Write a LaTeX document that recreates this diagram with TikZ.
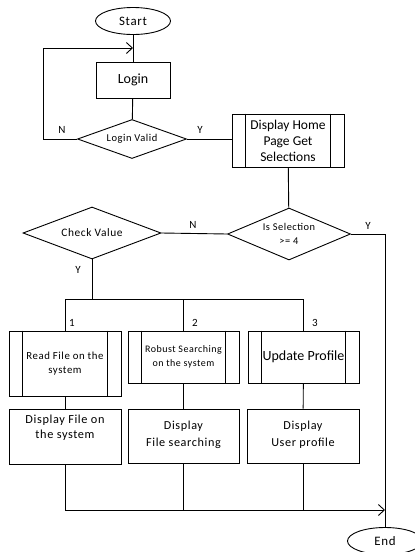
\documentclass[tikz,border=0pt]{standalone}
\usepackage{fontspec}
\setmainfont{Carlito}
\newfontfamily\spc[LetterSpace=5]{Carlito}
\usetikzlibrary{shapes.geometric,arrows.meta}
\begin{document}
\begin{tikzpicture}[x=1pt,y=-1pt,
 line width=0.9pt,
 term/.style={draw, ellipse, minimum width=75pt, minimum height=27pt, inner sep=0pt, font=\spc\fontsize{12.9}{14}\selectfont},
 box/.style={draw, rectangle, inner sep=0pt, align=center},
 dec/.style={draw, diamond, inner sep=0pt, align=center, aspect=2.5},
 txt/.style={inner sep=0pt, align=center},
 lab/.style={inner sep=0pt, font=\fontsize{11}{13}\selectfont},
 arr/.style={-{Straight Barb[length=6pt,width=11pt]}},
 predef/.style={box, append after command={
   [line width=0.9pt] ([xshift=14pt]\tikzlastnode.north west) edge ([xshift=14pt]\tikzlastnode.south west)
   ([xshift=-14pt]\tikzlastnode.north east) edge ([xshift=-14pt]\tikzlastnode.south east)}},
]
\useasboundingbox (0,0) rectangle (415,552);

% terminals
\node[term] (start) at (133,21) {Start};
\node[term] (end) at (385,541) {End};

% login part
\node[box, minimum width=74pt, minimum height=36pt, font=\fontsize{14}{16}\selectfont] (login) at (133,80) {Login};
\node[dec, minimum width=109pt, minimum height=39pt, font=\spc\fontsize{10.5}{11}\selectfont] (lv) at (132,139) {Login Valid};
\node[predef, minimum width=112pt, minimum height=53pt, font=\fontsize{13.5}{16}\selectfont] (dh) at (288,140.5) {Display Home\\Page Get\\Selections};

% decisions
\node[dec, minimum width=123pt, minimum height=52pt, font=\spc\fontsize{10.4}{14}\selectfont] (sel) at (289,234) {Is Selection\\>= 4};
\node[dec, minimum width=138pt, minimum height=52pt, font=\spc\fontsize{11.4}{13}\selectfont] (cv) at (92,233) {Check Value};

% process boxes
\node[predef, minimum width=112pt, minimum height=65pt, font=\spc\fontsize{10.8}{14}\selectfont] (b1) at (65,363.5) {Read File on the\\system};
\node[predef, minimum width=111pt, minimum height=52pt, font=\spc\fontsize{10}{14}\selectfont] (b2) at (183.5,357) {Robust Searching\\on the system};
\node[predef, minimum width=111pt, minimum height=52pt, font=\fontsize{14}{16}\selectfont] (b3) at (303.5,357) {Update Profile};

\node[box, minimum width=112pt, minimum height=55pt] (b1b) at (65,436.5) {};
\node[txt, font=\spc\fontsize{12.3}{15}\selectfont] (b1t) at (65,427.5) {Display File on\\the system};
\node[box, minimum width=111pt, minimum height=54pt] (b2b) at (183.5,436) {};
\node[txt, font=\spc\fontsize{12.2}{17}\selectfont] (b2t) at (183.5,434.5) {Display\\File searching};
\node[box, minimum width=112pt, minimum height=54pt] (b3b) at (303,436) {};
\node[txt, font=\spc\fontsize{12.2}{17}\selectfont] (b3t) at (303,434.5) {Display\\User profile};

% helper coordinates
\coordinate (loopin) at (133,48);
\coordinate (nl) at (43,139);
\coordinate (yr) at (385,234);
\coordinate (bj) at (92,299);
\coordinate (jn) at (385,510);

% connectors
\draw (start) -- (login);
\draw[arr] (lv.west) -- (nl) |- (loopin);
\draw (login) -- (lv);
\draw (lv.east) -- (lv.east -| dh.west);
\draw (dh) -- (sel);
\draw (sel.west) -- (cv.east);
\draw (sel.east) -- (yr) -- (end.north);
\draw (cv.south) -- (bj);
\draw (b1.north |- bj) -- (b3.north |- bj);
\draw (b1.north |- bj) -- (b1.north);
\draw (b2.north |- bj) -- (b2.north);
\draw (b3.north |- bj) -- (b3.north);
\draw (b1) -- (b1b);
\draw (b2) -- (b2b);
\draw (b3) -- (b3b);
\draw (b2b.south) -- (b2b.south |- jn);
\draw (b3b.south) -- (b3b.south |- jn);
\draw[arr] (b1b.south) -- (b1b.south |- jn) -- (jn);

% labels
\node[lab] (ln1) at (62,130) {N};
\node[lab] (ly1) at (200,130) {Y};
\node[lab] (ln2) at (193,225) {N};
\node[lab] (ly2) at (368,226) {Y};
\node[lab] (ly3) at (78,270) {Y};
\node[lab] (l1) at (72,323) {1};
\node[lab] (l2) at (195,323) {2};
\node[lab] (l3) at (315,323) {3};
\end{tikzpicture}
\end{document}
